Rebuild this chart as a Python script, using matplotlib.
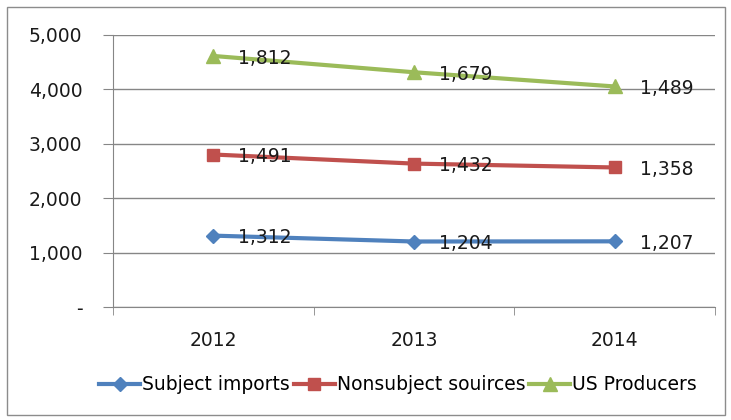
import matplotlib.pyplot as plt
import numpy as np
from matplotlib.patches import Rectangle

# ---------------- datos ----------------
years = ["2012", "2013", "2014"]
subject_imports = [1312, 1204, 1207]
nonsubject_sources = [1491, 1432, 1358]
us_producers = [1812, 1679, 1489]

series_names = ["Subject imports", "Nonsubject souirces", "US Producers"]
colors = ["#4F81BD", "#C0504D", "#9BBB59"]
markers = ["D", "s", "^"]
msizes = [7, 9, 10]

plt.rcParams["font.family"] = ["DejaVu Sans"]
FS = 13.5

fig = plt.figure(figsize=(7.31, 4.20), dpi=100)
ax = fig.add_axes([113 / 731, 1 - 307 / 420, (715 - 113) / 731, (307 - 35) / 420])

# borde exterior del gráfico
fig.patches.append(Rectangle((7 / 731, 5 / 420), 718 / 731, 408 / 420,
                             transform=fig.transFigure, fill=False,
                             edgecolor="#8C8C8C", linewidth=1.0))

x = np.arange(len(years)) + 0.5
values = [subject_imports, nonsubject_sources, us_producers]
cumulative = np.cumsum(np.array(values), axis=0)

handles = []
for vals, cum, name, c, m, ms in zip(values, cumulative, series_names, colors, markers, msizes):
    h, = ax.plot(x, cum, color=c, marker=m, markersize=ms, linewidth=3,
                 label=name, zorder=3)
    handles.append(h)
    for xi, yi, v in zip(x, cum, vals):
        ax.annotate(f"{v:,}", (xi, yi), xytext=(18, -1.5), textcoords="offset points",
                    ha="left", va="center", fontsize=FS, color="#1A1A1A", zorder=4)

ax.set_xlim(0, 3)
ax.set_ylim(0, 5000)
ax.set_yticks(np.arange(0, 5001, 1000))
ax.set_yticklabels(["-"] + [f"{v:,}" for v in range(1000, 5001, 1000)])
ax.set_xticks(x)
ax.set_xticklabels(years)
ax.set_xticks([0, 1, 2, 3], minor=True)

ax.grid(axis="y", color="#868686", linewidth=1.0, zorder=0)
for s in ["top", "right"]:
    ax.spines[s].set_visible(False)
ax.spines["left"].set_color("#868686")
ax.spines["bottom"].set_color("#868686")

ax.tick_params(axis="x", which="major", length=0, pad=17, labelsize=FS, labelcolor="#1A1A1A")
ax.tick_params(axis="x", which="minor", length=6, direction="out", color="#868686")
ax.tick_params(axis="y", length=7, color="#868686", pad=15, labelsize=FS, labelcolor="#1A1A1A")

fig.legend(handles=handles, loc="center", bbox_to_anchor=(398 / 731, 1 - 385 / 420),
           ncol=3, frameon=False, fontsize=FS, handlelength=2.2,
           handletextpad=0.1, columnspacing=0.2)

fig.savefig("out.png", dpi=100)
